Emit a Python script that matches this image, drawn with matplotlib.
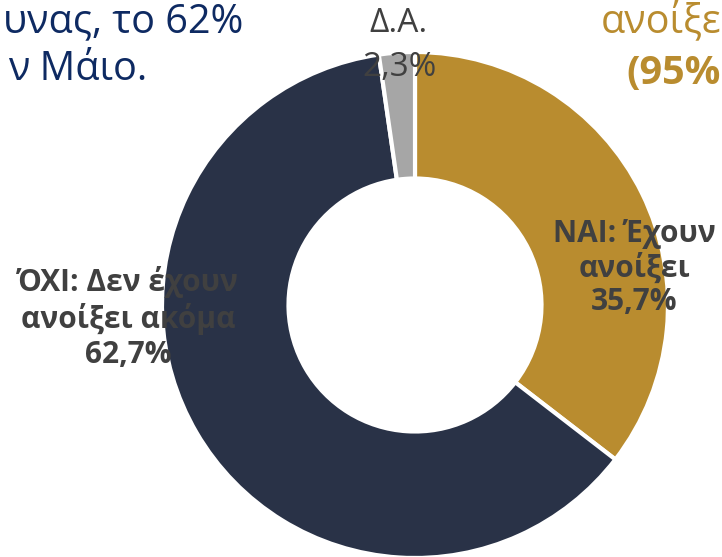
import matplotlib
matplotlib.use("Agg")
import matplotlib.pyplot as plt

# data
categories = ["ΝΑΙ: Έχουν\nανοίξει", "ΌΧΙ: Δεν έχουν\nανοίξει ακόμα", "Δ.Α."]
values = [35.7, 62.7, 2.3]
value_labels = ["35,7%", "62,7%", "2,3%"]
colors = ["#B98C2F", "#293247", "#A6A6A6"]

W, H = 722, 557
fig = plt.figure(figsize=(W / 100, H / 100), dpi=100)
ax = fig.add_axes([0, 0, 1, 1])
ax.set_xlim(0, W)
ax.set_ylim(0, H)
ax.set_aspect("equal")
ax.axis("off")

cx, cy, R = 415, H - 305, 253
ax.pie(values, colors=colors, startangle=90, counterclock=False,
       center=(cx, cy), radius=R,
       wedgeprops=dict(width=R * 0.5, edgecolor="white", linewidth=3))
ax.set_xlim(0, W)
ax.set_ylim(0, H)

font = ["Open Sans", "DejaVu Sans"]
lab_col = "#404040"

def py(y):
    return H - y

ax.text(128, py(318), categories[1] + "\n" + value_labels[1], ha="center", va="center",
        fontsize=21.5, fontweight="bold", color=lab_col, family=font, linespacing=1.2)
ax.text(634, py(268), categories[0] + "\n" + value_labels[0], ha="center", va="center",
        fontsize=21.5, fontweight="bold", color=lab_col, family=font, linespacing=1.15)
ax.text(399, py(24), categories[2], ha="center", va="center",
        fontsize=24, color=lab_col, family=font)
ax.text(399, py(68), value_labels[2], ha="center", va="center",
        fontsize=24, color=lab_col, family=font)

# cropped surrounding text
ax.text(243, py(22), "υνας, το 62%", ha="right", va="center",
        fontsize=28.5, color="#0E2A62", family=font)
ax.text(147, py(70), "ν Μάιο.", ha="right", va="center",
        fontsize=28.5, color="#0E2A62", family=font)
ax.text(721, py(22), "ανοίξε", ha="right", va="center",
        fontsize=28.5, color="#B98C2F", family=font)
ax.text(721, py(74), "(95%", ha="right", va="center",
        fontsize=28.5, fontweight="bold", color="#B98C2F", family=font)

fig.savefig("out.png", dpi=100)
